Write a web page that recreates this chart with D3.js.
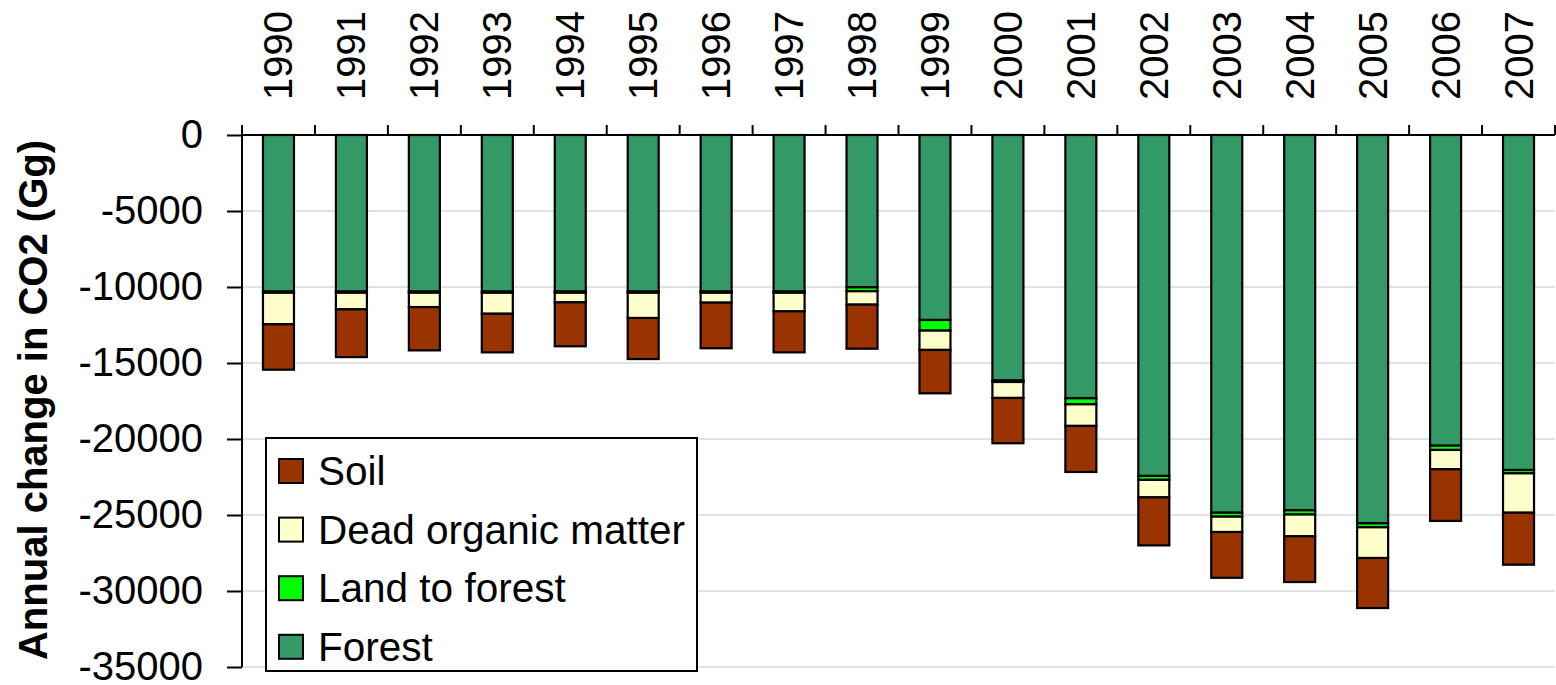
<!DOCTYPE html>
<html>
<head>
<meta charset="utf-8">
<script src="https://cdn.jsdelivr.net/npm/d3@7"></script>
<style>
  html, body { margin: 0; padding: 0; background: #fff; }
  svg { display: block; font-family: "Liberation Sans", Arial, sans-serif; }
</style>
</head>
<body>
<svg id="chart" width="1556" height="685"></svg>
<script>
// ---- data (Gg CO2, annual change) ----
const years = ["1990","1991","1992","1993","1994","1995","1996","1997","1998","1999","2000","2001","2002","2003","2004","2005","2006","2007"];
const forest = [-10300,-10300,-10300,-10300,-10300,-10300,-10300,-10300,-10020,-12170,-16150,-17320,-22430,-24850,-24690,-25550,-20440,-22040];
const landToForest = [-80,-80,-80,-80,-80,-80,-80,-80,-260,-700,-100,-400,-260,-260,-280,-260,-280,-220];
const deadOrganicMatter = [-2070,-1090,-940,-1380,-630,-1660,-650,-1220,-880,-1270,-1050,-1420,-1150,-1010,-1430,-2020,-1270,-2590];
const soil = [-2990,-3140,-2850,-2540,-2890,-2700,-3000,-2700,-2900,-2855,-2980,-3030,-3160,-3010,-3010,-3290,-3400,-3420];
const yTicks = [0,-5000,-10000,-15000,-20000,-25000,-30000,-35000];
const seriesNames = ["Forest","Land to forest","Dead organic matter","Soil"];
const seriesColors = ["#339966","#00ff00","#ffffcc","#993300"];
const legendOrder = ["Soil","Dead organic matter","Land to forest","Forest"];
const yTitle = "Annual change in CO2 (Gg)";

// ---- layout ----
const svg = d3.select("#chart");
const mLeft = 242, mRight = 1555, mTop = 135, mBottom = 667;

const x = d3.scaleBand().domain(years).range([mLeft, mRight]).padding(0);
const y = d3.scaleLinear().domain([-35000, 0]).range([mBottom, mTop]);
const barW = x.step() * 0.425;

const table = years.map((yr, i) => ({
  year: yr,
  "Forest": forest[i],
  "Land to forest": landToForest[i],
  "Dead organic matter": deadOrganicMatter[i],
  "Soil": soil[i]
}));
const stack = d3.stack().keys(seriesNames).offset(d3.stackOffsetDiverging);
const stacked = stack(table);
const color = d3.scaleOrdinal().domain(seriesNames).range(seriesColors);

// gridlines
svg.append("g").selectAll("line")
  .data(yTicks.filter(v => v !== 0))
  .join("line")
  .attr("x1", mLeft).attr("x2", mRight)
  .attr("y1", d => y(d)).attr("y2", d => y(d))
  .attr("stroke", "#d9d9d9").attr("stroke-width", 1.5);

// bars
svg.append("g").selectAll("g")
  .data(stacked)
  .join("g")
  .attr("fill", d => color(d.key))
  .selectAll("rect")
  .data(d => d)
  .join("rect")
  .attr("x", d => x(d.data.year) + x.bandwidth() / 2 - barW / 2)
  .attr("width", barW)
  .attr("y", d => y(d[1]))
  .attr("height", d => Math.max(0, y(d[0]) - y(d[1])))
  .attr("stroke", "#000")
  .attr("stroke-width", 2.2);

// y axis
const yAxis = svg.append("g")
  .attr("transform", `translate(${mLeft},0)`)
  .call(d3.axisLeft(y).tickValues(yTicks).tickSize(15).tickSizeOuter(0).tickPadding(24).tickFormat(d => String(d)));
yAxis.select(".domain").attr("stroke", "#000").attr("stroke-width", 2)
  .attr("d", `M0,${mTop - 10}V${mBottom}`);
yAxis.selectAll(".tick line").attr("stroke", "#000").attr("stroke-width", 2);
yAxis.selectAll(".tick text").attr("font-size", 40).attr("fill", "#000")
  .attr("font-family", "Liberation Sans, Arial, sans-serif");

// top category axis line
svg.append("line")
  .attr("x1", mLeft).attr("x2", mRight).attr("y1", y(0)).attr("y2", y(0))
  .attr("stroke", "#000").attr("stroke-width", 2);
// boundary ticks (pointing up)
const bounds = years.map(yr => x(yr) + x.step()).concat([x(years[0])]);
svg.append("g").selectAll("line")
  .data(bounds)
  .join("line")
  .attr("x1", d => d).attr("x2", d => d)
  .attr("y1", y(0) - 10).attr("y2", y(0))
  .attr("stroke", "#000").attr("stroke-width", 2);

// year labels
svg.append("g").selectAll("text")
  .data(years)
  .join("text")
  .attr("transform", d => `translate(${x(d) + x.bandwidth() / 2 + 14},100) rotate(-90)`)
  .attr("text-anchor", "start")
  .attr("font-size", 40)
  .attr("fill", "#000")
  .text(d => d);

// y title
svg.append("text")
  .attr("transform", `translate(47,400) rotate(-90)`)
  .attr("text-anchor", "middle")
  .attr("font-size", 40)
  .attr("font-weight", "bold")
  .attr("fill", "#000")
  .text(yTitle);

// legend
const lg = svg.append("g");
lg.append("rect")
  .attr("x", 266).attr("y", 438).attr("width", 431).attr("height", 233)
  .attr("fill", "#fff").attr("stroke", "#000").attr("stroke-width", 2);
const items = lg.selectAll("g.item")
  .data(legendOrder)
  .join("g")
  .attr("class", "item")
  .attr("transform", (d, i) => `translate(279,${459 + i * 58.6})`);
items.append("rect")
  .attr("width", 24).attr("height", 24)
  .attr("fill", d => color(d))
  .attr("stroke", "#000").attr("stroke-width", 2);
items.append("text")
  .attr("x", 39).attr("y", 26)
  .attr("font-size", 40.5)
  .attr("fill", "#000")
  .text(d => d);
</script>
</body>
</html>
